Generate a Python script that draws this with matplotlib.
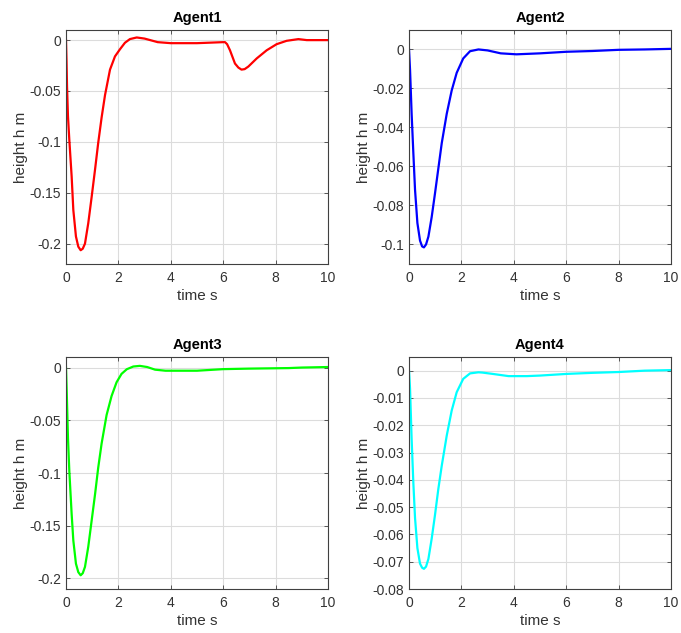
import numpy as np
import matplotlib
matplotlib.use('Agg')
import matplotlib.pyplot as plt
from matplotlib.ticker import FuncFormatter

plt.rcParams['font.family'] = ['Liberation Sans', 'DejaVu Sans']
plt.rcParams['axes.unicode_minus'] = False

# time (s) and height (m), one series per agent
t1 = [0, 0.02, 0.04, 0.076, 0.127, 0.216, 0.28, 0.38, 0.47, 0.56, 0.64, 0.725, 0.85,
      0.98, 1.11, 1.23, 1.36, 1.49, 1.68, 1.87, 2.06, 2.25, 2.44, 2.7, 3.0, 3.5, 4.0,
      5.0, 6.0, 6.07, 6.15, 6.26, 6.45, 6.58, 6.7, 6.82, 6.96, 7.28, 7.66, 8.04, 8.42,
      8.87, 9.19, 9.6, 10.0]
h1 = [0, -0.02, -0.046, -0.075, -0.098, -0.134, -0.167, -0.193, -0.203, -0.2065,
      -0.205, -0.2, -0.18, -0.154, -0.127, -0.101, -0.076, -0.054, -0.029, -0.016,
      -0.009, -0.0026, 0.001, 0.0026, 0.0015, -0.002, -0.003,
      -0.003, -0.002, -0.002, -0.004, -0.01, -0.023, -0.027, -0.029, -0.0285, -0.026,
      -0.018, -0.01, -0.004, -0.0007, 0.001, 0.0, 0.0, 0.0]

t2 = [0, 0.04, 0.1, 0.165, 0.23, 0.32, 0.42, 0.5, 0.57, 0.65, 0.74, 0.865, 0.99, 1.12,
      1.25, 1.44, 1.63, 1.82, 2.07, 2.33, 2.65, 3.0, 3.5, 4.1, 5.0, 6.0, 7.0, 8.0,
      9.0, 10.0]
h2 = [0, -0.0106, -0.033, -0.053, -0.072, -0.089, -0.098, -0.101, -0.1015, -0.1,
      -0.096, -0.086, -0.074, -0.061, -0.048, -0.033, -0.021, -0.012, -0.0046,
      -0.0009, 0.0, -0.0005, -0.002, -0.0025, -0.002, -0.0012, -0.0008, -0.0002,
      0.0, 0.0003]

t3 = [0, 0.025, 0.076, 0.127, 0.216, 0.28, 0.38, 0.47, 0.56, 0.64, 0.725, 0.85, 0.98,
      1.11, 1.23, 1.36, 1.55, 1.74, 1.93, 2.12, 2.32, 2.57, 2.82, 3.1, 3.4, 3.8,
      5.0, 6.0, 7.0, 8.5, 9.0, 10.0]
h3 = [0, -0.02, -0.067, -0.098, -0.139, -0.164, -0.186, -0.194, -0.197, -0.195,
      -0.189, -0.17, -0.145, -0.12, -0.095, -0.072, -0.045, -0.027, -0.014, -0.006,
      -0.0016, 0.001, 0.0016, 0.0005, -0.002, -0.003,
      -0.003, -0.0015, -0.001, -0.0005, 0.0, 0.0005]

t4 = [0, 0.04, 0.1, 0.165, 0.23, 0.32, 0.42, 0.5, 0.57, 0.65, 0.74, 0.865, 0.99, 1.12,
      1.25, 1.44, 1.63, 1.82, 2.07, 2.33, 2.65, 2.8, 3.2, 3.8, 4.5, 5.0, 6.0, 7.0,
      8.0, 9.0, 10.0]
h4 = [0, -0.0067, -0.025, -0.041, -0.054, -0.065, -0.0707, -0.0722, -0.0726, -0.0718,
      -0.069, -0.0616, -0.053, -0.0433, -0.0348, -0.0238, -0.0146, -0.0079, -0.003,
      -0.001, -0.0006, -0.0007, -0.0012, -0.002, -0.002, -0.0018, -0.0012, -0.0008,
      -0.0005, 0.0, 0.0002]

series = [(t1, h1), (t2, h2), (t3, h3), (t4, h4)]
titles = ['Agent1', 'Agent2', 'Agent3', 'Agent4']
colors = ['#ff0000', '#0000ff', '#00ff00', '#00ffff']
ylims = [(-0.22, 0.01), (-0.11, 0.01), (-0.21, 0.01), (-0.08, 0.005)]
yticks = [np.arange(-0.2, 0.01, 0.05), np.arange(-0.1, 0.001, 0.02),
          np.arange(-0.2, 0.01, 0.05), np.arange(-0.08, 0.001, 0.01)]

# axes boxes in figure fractions [left, bottom, width, height]
boxes = [[0.0969, 0.583, 0.3847, 0.3697], [0.6006, 0.583, 0.3847, 0.3697],
         [0.0969, 0.0695, 0.3847, 0.3665], [0.6006, 0.0695, 0.3847, 0.3665]]

txt = '#333333'
fmt = FuncFormatter(lambda v, p: '%g' % round(v, 6) if abs(v) > 1e-9 else '0')

fig = plt.figure(figsize=(6.81, 6.33), dpi=100)
for i in range(4):
    ax = fig.add_axes(boxes[i])
    t, h = series[i]
    ax.plot(t, h, color=colors[i], linewidth=1.6)
    ax.set_xlim(0, 10)
    ax.set_ylim(*ylims[i])
    ax.set_xticks(np.arange(0, 11, 2))
    ax.set_yticks(yticks[i])
    ax.yaxis.set_major_formatter(fmt)
    ax.grid(True, color='#dcdcdc', linewidth=0.8)
    ax.set_axisbelow(True)
    ax.tick_params(direction='in', top=True, right=True, length=3,
                   labelsize=10, colors='#404040', labelcolor=txt, width=0.6)
    ax.tick_params(axis='x', pad=5)
    for s in ax.spines.values():
        s.set_color('#404040')
        s.set_linewidth(0.8)
    ax.set_title(titles[i], fontsize=10.5, fontweight='bold', color='black', pad=6)
    ax.set_xlabel('time s', fontsize=11, color=txt, labelpad=3)
    ax.set_ylabel('height h m', fontsize=11, color=txt, labelpad=1)

plt.savefig('out.png', dpi=100)
print('Saved to out.png')
